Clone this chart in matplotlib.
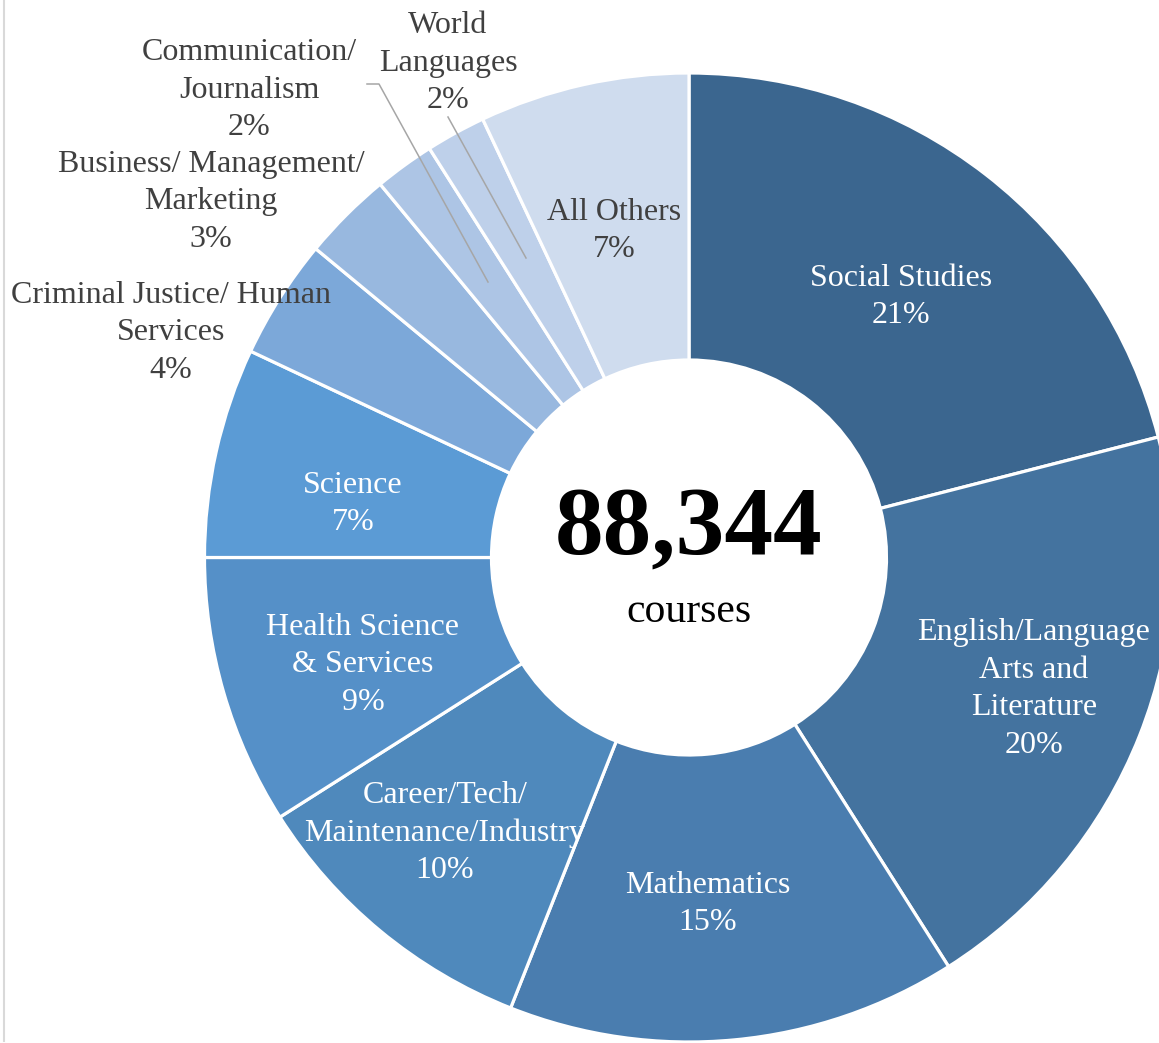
import matplotlib.pyplot as plt

plt.rcParams['font.family'] = ['Liberation Serif', 'DejaVu Serif']

# course share by subject area (percent)
subjects = ["Social Studies", "English/Language\nArts and\nLiterature", "Mathematics",
            "Career/Tech/\nMaintenance/Industry", "Health Science\n& Services", "Science",
            "Criminal Justice/ Human\nServices", "Business/ Management/\nMarketing",
            "Communication/\nJournalism", "World\nLanguages", "All Others"]
shares = [21, 20, 15, 10, 9, 7, 4, 3, 2, 2, 7]
colors = ["#3B668F", "#44739F", "#4A7DAF", "#4F89BC", "#5590C8", "#5B9BD5",
          "#7CA8D9", "#98B8DF", "#ADC5E5", "#BED0EA", "#CFDCEE"]
total_courses = "88,344"

W, H = 1159, 1043
fig = plt.figure(figsize=(W / 100, H / 100), dpi=100)
ax = fig.add_axes([0, 0, 1, 1])

cx, cy = 689, H - 557.5
R = 484.5
ring = 287

ax.pie(shares, colors=colors, startangle=90, counterclock=False,
       center=(cx, cy), radius=R, frame=True,
       wedgeprops=dict(width=ring, edgecolor="white", linewidth=2.3))
ax.set_xlim(0, W)
ax.set_ylim(0, H)
ax.set_aspect("equal")
ax.axis("off")

# label positions in pixel coordinates (x, y from top)
label_pos = [(901, 297), (1034, 689), (708, 904), (445, 833), (363, 665), (353, 504),
             (171, 333), (211, 202), (249, 90), (448, 63), (614, 231)]
inside = [True, True, True, True, True, True, False, False, False, False, False]
for name, val, (lx, ly), ins in zip(subjects, shares, label_pos, inside):
    color = "white" if ins else "#404040"
    ax.text(lx, H - ly, f"{name}\n{val}%", ha="center", va="center",
            fontsize=23, color=color, linespacing=1.38)

# leader lines for the two narrow slices
ax.plot([367, 379, 488], [H - 84, H - 84, H - 282], color="#A6A6A6", lw=1.1)
ax.plot([448, 526], [H - 117, H - 258], color="#A6A6A6", lw=1.1)

# total in the hole
ax.text(cx, H - 530, total_courses, ha="center", va="center",
        fontsize=70, fontweight="bold", color="black")
ax.text(cx, H - 612, "courses", ha="center", va="center",
        fontsize=30, color="black")

# chart area border on the left
ax.plot([4, 4], [H, 2], color="#D9D9D9", lw=1.5)

fig.savefig("out.png", dpi=100)
